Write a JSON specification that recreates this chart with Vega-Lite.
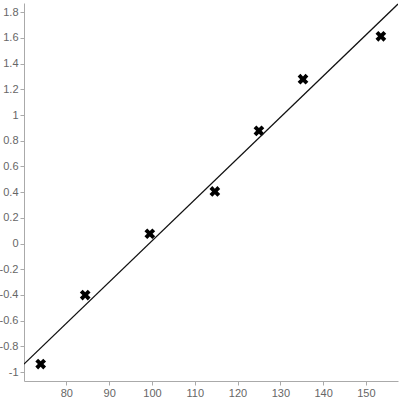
{
  "$schema": "https://vega.github.io/schema/vega-lite/v6.json",
  "autosize": "none",
  "width": 374,
  "height": 378,
  "padding": {"left": 24, "top": 3, "right": 2, "bottom": 19},
  "background": "white",
  "config": {
    "view": {"stroke": null},
    "axis": {
      "grid": false,
      "domainColor": "#aaaaaa",
      "tickColor": "#aaaaaa",
      "tickSize": 4,
      "labelColor": "#666666",
      "labelFont": "Liberation Sans",
      "labelFontSize": 11,
      "labelPadding": 2,
      "title": null
    }
  },
  "data": {
    "values": [
      {"x": 74, "y": -0.938},
      {"x": 84.4, "y": -0.401},
      {"x": 99.5, "y": 0.076},
      {"x": 114.7, "y": 0.405},
      {"x": 125, "y": 0.877},
      {"x": 135.3, "y": 1.279},
      {"x": 153.5, "y": 1.613}
    ]
  },
  "layer": [
    {
      "mark": {
        "type": "point",
        "filled": true,
        "color": "black",
        "opacity": 1,
        "size": 115,
        "shape": "M-1,-0.48L-0.48,-1L0,-0.52L0.48,-1L1,-0.48L0.52,0L1,0.48L0.48,1L0,0.52L-0.48,1L-1,0.48L-0.52,0Z"
      },
      "encoding": {
        "x": {
          "field": "x", "type": "quantitative",
          "scale": {"domain": [70.1, 157.5], "nice": false, "zero": false},
          "axis": {"values": [80, 90, 100, 110, 120, 130, 140, 150], "tickCount": 20, "labelOverlap": false, "labelFlush": false, "labelExpr": "replace(format(datum.value, '~g'), '\u2212', '-')"}
        },
        "y": {
          "field": "y", "type": "quantitative",
          "scale": {"domain": [-1.07, 1.872], "nice": false, "zero": false},
          "axis": {
            "values": [-1, -0.8, -0.6, -0.4, -0.2, 0, 0.2, 0.4, 0.6, 0.8, 1, 1.2, 1.4, 1.6, 1.8],
            "tickCount": 20,
            "labelOverlap": false,
            "labelFlush": false,
            "labelExpr": "replace(format(datum.value, '~g'), '\u2212', '-')"
          }
        }
      }
    },
    {
      "transform": [{"regression": "y", "on": "x", "extent": [70.1, 157.5]}],
      "mark": {"type": "line", "color": "#111111", "strokeWidth": 1.2, "clip": true},
      "encoding": {
        "x": {"field": "x", "type": "quantitative"},
        "y": {"field": "y", "type": "quantitative"}
      }
    }
  ]
}
